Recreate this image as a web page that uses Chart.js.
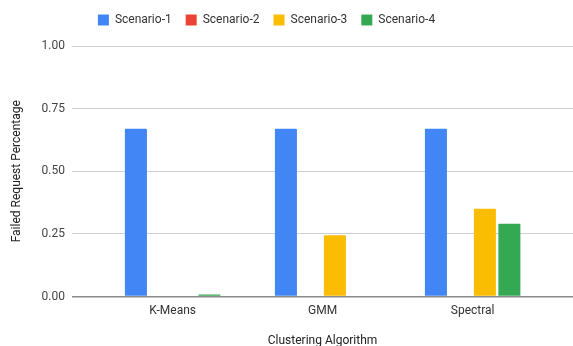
<!DOCTYPE html>
<html>
<head>
<meta charset="utf-8">
<script src="https://cdn.jsdelivr.net/npm/chart.js@4.4.1/dist/chart.umd.min.js"></script>
<style>
  html, body { margin: 0; padding: 0; background: #ffffff; overflow: hidden; }
  canvas { display: block; }
</style>
</head>
<body>
<canvas id="chart" width="573" height="346" style="width:573px;height:346px"></canvas>
<script>
// Failed request share per clustering algorithm, four scenarios
const categories = ['K-Means', 'GMM', 'Spectral'];
const seriesNames = ['Scenario-1', 'Scenario-2', 'Scenario-3', 'Scenario-4'];
const scenario1 = [0.67, 0.67, 0.67];
const scenario2 = [0, 0, 0];
const scenario3 = [0, 0.245, 0.35];
const scenario4 = [0.008, 0, 0.29];
const yTicks = [0, 0.25, 0.5, 0.75, 1];

const seriesValues = [scenario1, scenario2, scenario3, scenario4];
const seriesColors = ['#4285F4', '#EA4335', '#FBBC04', '#34A853'];

const FONT = 'Roboto, "Liberation Sans", Arial, sans-serif';

// Legend sits in a fixed-height band above the plot, nudged left
const legendBand = {
  id: 'legendBand',
  beforeInit(chart) {
    const legend = chart.legend;
    const fit = legend.fit;
    legend.fit = function () {
      fit.call(this);
      this.height = 46;
    };
  },
  afterLayout(chart) {
    chart.legend.left -= 20;
    chart.legend.right -= 20;
  }
};

new Chart(document.getElementById('chart'), {
  type: 'bar',
  data: {
    datasets: seriesValues.map((vals, s) => ({
      label: seriesNames[s],
      // zero values leave an empty slot rather than a hairline bar
      data: vals.map((v, i) => ({ x: i, y: v === 0 ? null : v })),
      backgroundColor: seriesColors[s],
      borderWidth: 0,
      borderRadius: 1,
      barPercentage: 0.9,
      categoryPercentage: 0.653
    }))
  },
  options: {
    responsive: false,
    animation: false,
    devicePixelRatio: 1,
    layout: { padding: 0 },
    plugins: {
      legend: {
        position: 'top',
        align: 'center',
        labels: {
          boxWidth: 11,
          boxHeight: 11,
          padding: 14,
          color: '#333333',
          font: { family: FONT, size: 12 }
        }
      },
      tooltip: { enabled: false }
    },
    scales: {
      x: {
        type: 'linear',
        offset: false,
        bounds: 'data',
        min: -0.671,
        max: 2.669,
        afterBuildTicks(scale) {
          scale.ticks = categories.map((c, i) => ({ value: i }));
        },
        afterFit(scale) { scale.height = 49.5; },
        grid: { display: false, drawTicks: false },
        border: { display: false },
        ticks: {
          padding: 7,
          color: '#333333',
          font: { family: FONT, size: 12 },
          callback: (v) => categories[v] ?? ''
        },
        title: {
          display: true,
          text: 'Clustering Algorithm',
          color: '#222222',
          font: { family: FONT, size: 12 },
          padding: { top: 0, bottom: -2 }
        }
      },
      y: {
        min: 0,
        max: 1,
        afterBuildTicks(scale) {
          scale.ticks = yTicks.map(v => ({ value: v }));
        },
        afterFit(scale) { scale.width = 72; },
        grid: {
          drawTicks: false,
          color: (ctx) => ctx.tick && ctx.tick.value === 0 ? '#8a8a8a' : '#d0d0d0',
          lineWidth: (ctx) => ctx.tick && ctx.tick.value === 0 ? 1.5 : 1
        },
        border: { display: false },
        ticks: {
          padding: 7,
          color: '#444444',
          font: { family: FONT, size: 12 },
          callback: (v) => Number(v).toFixed(2)
        },
        title: {
          display: true,
          text: 'Failed Request Percentage',
          color: '#222222',
          font: { family: FONT, size: 12 },
          padding: { top: 10, bottom: 0 }
        }
      }
    }
  },
  plugins: [legendBand]
});
</script>
</body>
</html>
